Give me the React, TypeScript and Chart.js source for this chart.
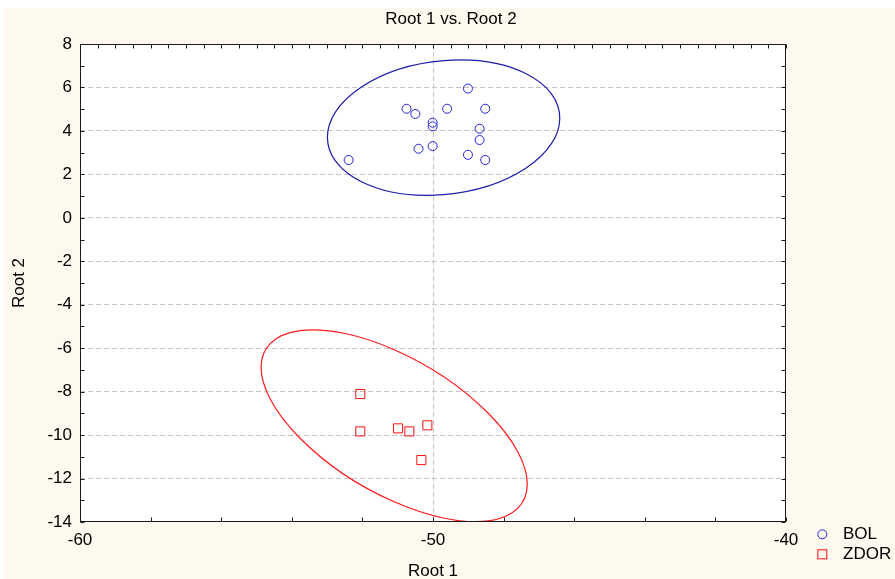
import React, { useEffect, useRef } from 'react';
import { Chart, registerables } from 'chart.js';

Chart.register(...registerables);

// ---------- text ----------
const chartTitle = 'Root 1 vs. Root 2';
const xAxisTitle = 'Root 1';
const yAxisTitle = 'Root 2';
const seriesNames = ['BOL', 'ZDOR'];

// ---------- data ----------
const bolX = [-52.39, -50.75, -50.5, -50.01, -50.01, -49.6, -49.01, -48.52, -48.68, -48.68, -50.41, -50.01, -49.01, -48.52];
const bolY = [2.66, 5.02, 4.78, 4.38, 4.21, 5.02, 5.95, 5.02, 4.1, 3.58, 3.18, 3.3, 2.9, 2.66];

const zdorX = [-52.06, -52.06, -50.99, -50.67, -50.16, -50.33];
const zdorY = [-8.11, -9.83, -9.69, -9.83, -9.55, -11.15];

// confidence ellipses: centre and two conjugate semi-diameters, in data units
const bolEllipseCenter = [-49.7, 4.15];
const bolEllipseU = [3.291, 0.438];
const bolEllipseV = [0, 3.081];
const zdorEllipseCenter = [-51.1, -9.57];
const zdorEllipseU = [3.77, -2.689];
const zdorEllipseV = [0, 3.501];

// ---------- axes ----------
const xMin = -60;
const xMax = -40;
const xLabelStep = 10;
const yMin = -14;
const yMax = 8;
const yLabelStep = 2;
const topMinorStep = 0.5;
const bottomMinorStep = 2;
const sideMinorStep = 1;

// ---------- style ----------
const FONT = "'Liberation Sans', Arial, Helvetica, sans-serif";
const FONT_SIZE = 17;
const BG = '#fdf9ef';
const BLUE_PT = '#2424dc';
const BLUE_EL = '#1c1caa';
const RED_PT = '#ff1010';
const RED_EL = '#ff1a1a';
const GRID = '#c4c4c4';
const CANVAS_W = 895;
const CANVAS_H = 579;

function steps(min: number, max: number, step: number): number[] {
  const n = Math.round((max - min) / step);
  const out: number[] = [];
  for (let i = 0; i <= n; i++) out.push(min + i * step);
  return out;
}

function drawEllipse(chart: any, c: number[], u: number[], v: number[], color: string) {
  const xs = chart.scales.x;
  const ys = chart.scales.y;
  const ctx = chart.ctx;
  const pcx = xs.getPixelForValue(c[0]);
  const pcy = ys.getPixelForValue(c[1]);
  const ux = xs.getPixelForValue(c[0] + u[0]) - pcx;
  const uy = ys.getPixelForValue(c[1] + u[1]) - pcy;
  const vx = xs.getPixelForValue(c[0] + v[0]) - pcx;
  const vy = ys.getPixelForValue(c[1] + v[1]) - pcy;
  ctx.beginPath();
  ctx.save();
  ctx.transform(ux, uy, vx, vy, pcx, pcy);
  ctx.arc(0, 0, 1, 0, Math.PI * 2);
  ctx.restore();
  ctx.strokeStyle = color;
  ctx.lineWidth = 1.2;
  ctx.stroke();
}

const decorPlugin = {
  id: 'decor',
  beforeDraw(chart: any) {
    const { ctx, chartArea: a, width, height } = chart;
    ctx.save();
    ctx.fillStyle = '#ffffff';
    ctx.fillRect(0, 0, width, height);
    ctx.fillStyle = BG;
    ctx.fillRect(4, 8, width - 4, height - 8);
    ctx.fillStyle = '#ffffff';
    ctx.fillRect(a.left, a.top, a.right - a.left, a.bottom - a.top);
    ctx.fillStyle = '#000';
    ctx.font = `${FONT_SIZE}px ${FONT}`;
    ctx.textAlign = 'center';
    ctx.textBaseline = 'middle';
    ctx.fillText(chartTitle, 451, 19.5);
    ctx.restore();
  },
  afterDatasetsDraw(chart: any) {
    const { ctx, chartArea: a } = chart;
    ctx.save();
    ctx.beginPath();
    ctx.rect(a.left, a.top, a.right - a.left, a.bottom - a.top);
    ctx.clip();
    drawEllipse(chart, bolEllipseCenter, bolEllipseU, bolEllipseV, BLUE_EL);
    drawEllipse(chart, zdorEllipseCenter, zdorEllipseU, zdorEllipseV, RED_EL);
    ctx.restore();
  },
  afterDraw(chart: any) {
    const { ctx, chartArea: a } = chart;
    const xs = chart.scales.x;
    const ys = chart.scales.y;
    const L = a.left + 0.5;
    const R = a.right - 0.5;
    const T = a.top + 0.5;
    const B = a.bottom - 0.5;
    const tl = 4;
    ctx.save();
    ctx.strokeStyle = '#1a1a1a';
    ctx.lineWidth = 1;
    ctx.beginPath();
    steps(xMin, xMax, topMinorStep).forEach((v) => {
      const px = Math.round(xs.getPixelForValue(v)) + 0.5;
      ctx.moveTo(px, T);
      ctx.lineTo(px, T + tl);
    });
    steps(xMin, xMax, bottomMinorStep).forEach((v) => {
      const px = Math.round(xs.getPixelForValue(v)) + 0.5;
      ctx.moveTo(px, B);
      ctx.lineTo(px, B - tl);
    });
    steps(yMin, yMax, sideMinorStep).forEach((v) => {
      const py = Math.round(ys.getPixelForValue(v)) + 0.5;
      ctx.moveTo(L, py);
      ctx.lineTo(L + tl, py);
      ctx.moveTo(R, py);
      ctx.lineTo(R - tl, py);
    });
    ctx.stroke();
    ctx.strokeRect(L, T, R - L, B - T);

    // legend
    const lx = 822.3;
    const ly1 = 534.3;
    const ly2 = 554.3;
    ctx.lineWidth = 1;
    ctx.strokeStyle = BLUE_PT;
    ctx.beginPath();
    ctx.arc(lx, ly1, 4.5, 0, Math.PI * 2);
    ctx.stroke();
    ctx.strokeStyle = RED_PT;
    ctx.strokeRect(lx - 4.5, ly2 - 4.5, 9, 9);
    ctx.fillStyle = '#000';
    ctx.font = `${FONT_SIZE}px ${FONT}`;
    ctx.textAlign = 'left';
    ctx.textBaseline = 'middle';
    ctx.fillText(seriesNames[0], 843, ly1);
    ctx.fillText(seriesNames[1], 843, ly2);
    ctx.restore();
  },
};

export default function App() {
  const canvasRef = useRef<HTMLCanvasElement | null>(null);

  useEffect(() => {
    const canvas = canvasRef.current;
    if (!canvas) return;
    const prevMargin = document.body.style.margin;
    document.body.style.margin = '0';
    const chart = new Chart(canvas, {
      type: 'scatter',
      data: {
        datasets: [
          {
            label: seriesNames[0],
            data: bolX.map((x, i) => ({ x, y: bolY[i] })),
            pointStyle: 'circle',
            pointRadius: 4.5,
            pointBorderWidth: 1,
            pointBorderColor: BLUE_PT,
            pointBackgroundColor: 'rgba(0,0,0,0)',
          },
          {
            label: seriesNames[1],
            data: zdorX.map((x, i) => ({ x, y: zdorY[i] })),
            pointStyle: 'rect',
            pointRadius: 6.4,
            pointBorderWidth: 1,
            pointBorderColor: RED_PT,
            pointBackgroundColor: 'rgba(0,0,0,0)',
          },
        ],
      },
      plugins: [decorPlugin],
      options: {
        responsive: false,
        animation: false,
        events: [],
        layout: { padding: { top: 44, right: 109, left: 0, bottom: 0 } },
        plugins: {
          legend: { display: false },
          title: { display: false },
          tooltip: { enabled: false },
        },
        scales: {
          x: {
            type: 'linear',
            min: xMin,
            max: xMax,
            afterFit: (s: any) => {
              s.height = 57;
            },
            ticks: {
              stepSize: xLabelStep,
              color: '#000',
              padding: 8.6,
              font: { family: FONT, size: FONT_SIZE },
            },
            grid: {
              drawTicks: false,
              lineWidth: 1,
              color: (c: any) => (c.tick && c.tick.value === -50 ? GRID : 'rgba(0,0,0,0)'),
            },
            border: { display: false, dash: [5, 3] },
            title: {
              display: true,
              text: xAxisTitle,
              color: '#000',
              font: { family: FONT, size: FONT_SIZE },
              padding: { top: 0, bottom: -2.9 },
            },
          },
          y: {
            type: 'linear',
            min: yMin,
            max: yMax,
            afterFit: (s: any) => {
              s.width = 80;
            },
            ticks: {
              stepSize: yLabelStep,
              color: '#000',
              padding: 8,
              font: { family: FONT, size: FONT_SIZE },
            },
            grid: {
              drawTicks: false,
              lineWidth: 1,
              color: (c: any) =>
                c.tick && (c.tick.value === yMin || c.tick.value === yMax) ? 'rgba(0,0,0,0)' : GRID,
            },
            border: { display: false, dash: [5, 3] },
            title: {
              display: true,
              text: yAxisTitle,
              color: '#000',
              font: { family: FONT, size: FONT_SIZE },
              padding: { top: 9.3, bottom: 0 },
            },
          },
        },
      },
    } as any);
    return () => {
      chart.destroy();
      document.body.style.margin = prevMargin;
    };
  }, []);

  return (
    <div style={{ width: CANVAS_W, height: CANVAS_H }}>
      <style>{'body{margin:0;}'}</style>
      <canvas ref={canvasRef} width={CANVAS_W} height={CANVAS_H} style={{ display: 'block' }} />
    </div>
  );
}
